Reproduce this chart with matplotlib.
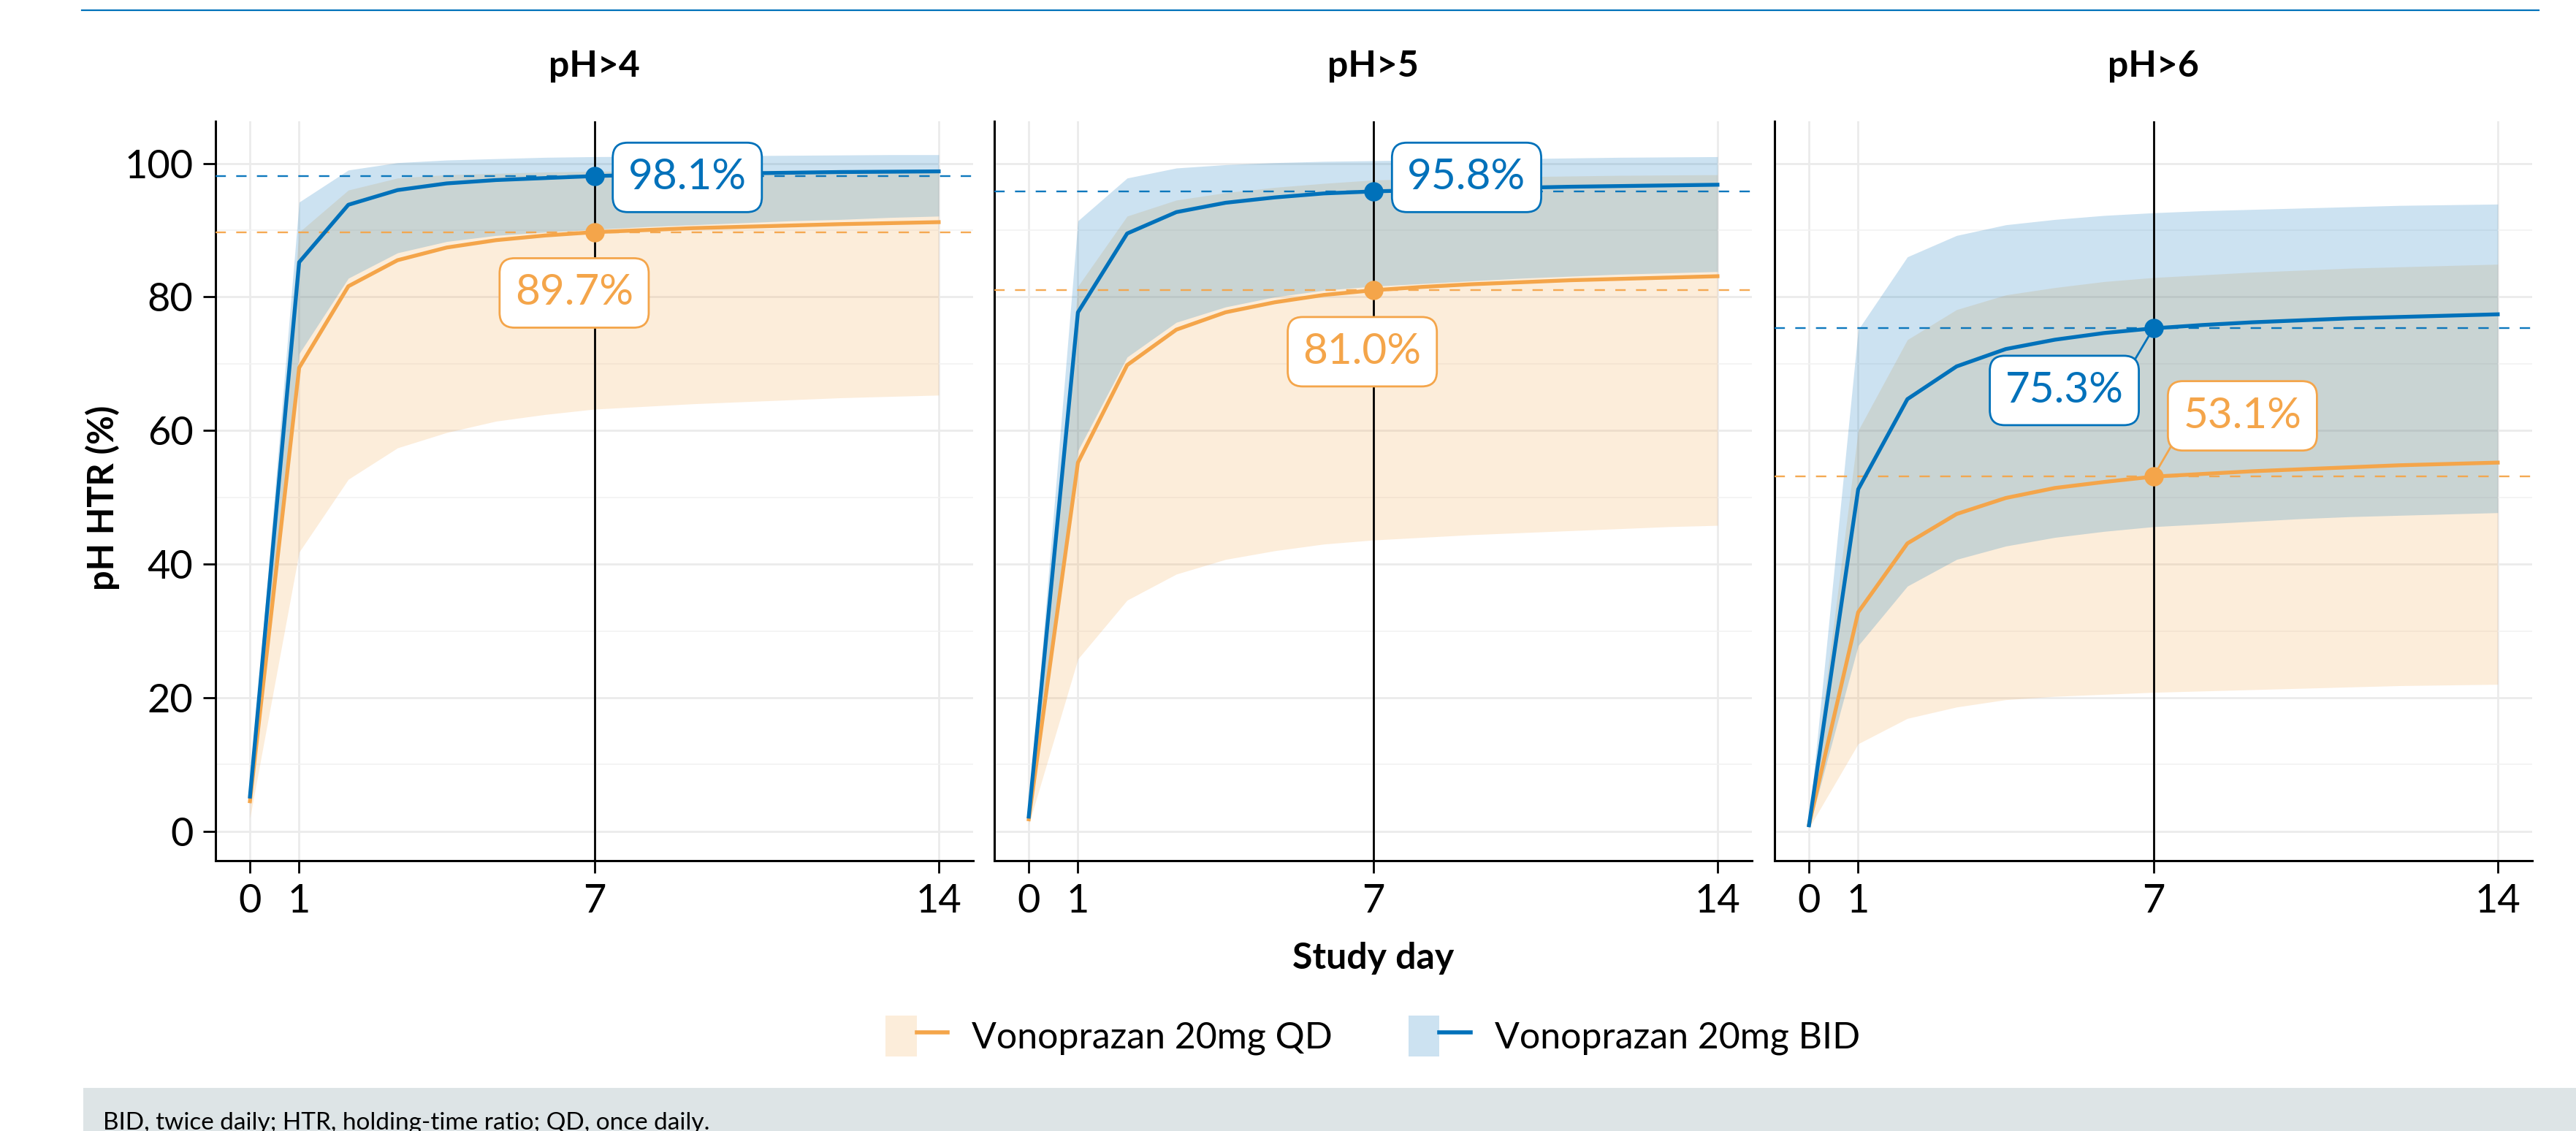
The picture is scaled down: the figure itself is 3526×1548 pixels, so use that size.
import matplotlib
matplotlib.use("Agg")
import matplotlib.pyplot as plt
from matplotlib.patches import Patch, Rectangle
from matplotlib.lines import Line2D
from matplotlib.legend_handler import HandlerTuple

plt.rcParams['font.family'] = ['Lato', 'DejaVu Sans']

BLUE = '#0071BA'
ORANGE = '#F4A54A'

days = list(range(15))
panel_titles = ['pH>4', 'pH>5', 'pH>6']
series_names = ['Vonoprazan 20mg QD', 'Vonoprazan 20mg BID']

# pH>4
qd4_med = [4.5, 69.4, 81.6, 85.5, 87.4, 88.5, 89.2, 89.7, 90.0, 90.3, 90.5, 90.7, 90.9, 91.05, 91.2]
qd4_lo = [2.0, 41.8, 52.7, 57.4, 59.7, 61.4, 62.4, 63.2, 63.6, 64.0, 64.3, 64.6, 64.9, 65.1, 65.3]
qd4_hi = [7.5, 89.7, 96.0, 97.8, 98.3, 98.5, 98.7, 98.8, 98.85, 98.9, 98.9, 98.95, 99.0, 99.0, 99.0]
bid4_med = [5.2, 85.2, 93.8, 96.0, 97.0, 97.5, 97.8, 98.1, 98.3, 98.4, 98.5, 98.6, 98.7, 98.75, 98.8]
bid4_lo = [4.0, 71.5, 82.8, 86.6, 88.3, 89.2, 89.7, 90.1, 90.5, 90.8, 91.1, 91.4, 91.6, 91.9, 92.1]
bid4_hi = [6.5, 94.2, 99.0, 100.1, 100.5, 100.7, 100.9, 101.0, 101.05, 101.1, 101.15, 101.2, 101.25, 101.3, 101.3]

# pH>5
qd5_med = [1.8, 55.2, 69.8, 75.1, 77.7, 79.2, 80.3, 81.0, 81.5, 81.9, 82.2, 82.5, 82.7, 82.9, 83.1]
qd5_lo = [1.0, 25.8, 34.6, 38.5, 40.7, 42.0, 43.0, 43.6, 44.0, 44.4, 44.7, 45.0, 45.3, 45.6, 45.8]
qd5_hi = [2.8, 81.6, 92.1, 94.5, 95.6, 96.4, 97.0, 97.5, 97.7, 97.9, 98.0, 98.1, 98.2, 98.25, 98.3]
bid5_med = [2.2, 77.7, 89.5, 92.7, 94.1, 94.9, 95.5, 95.8, 96.0, 96.2, 96.35, 96.5, 96.6, 96.7, 96.8]
bid5_lo = [1.5, 57.0, 71.0, 76.2, 78.5, 80.0, 81.0, 81.6, 82.0, 82.4, 82.8, 83.1, 83.4, 83.6, 83.8]
bid5_hi = [3.0, 91.4, 97.8, 99.3, 99.8, 100.1, 100.3, 100.4, 100.5, 100.6, 100.7, 100.8, 100.9, 100.95, 101.0]

# pH>6
qd6_med = [1.0, 32.8, 43.1, 47.5, 49.9, 51.4, 52.3, 53.1, 53.5, 53.9, 54.2, 54.5, 54.8, 55.0, 55.2]
qd6_lo = [0.5, 13.1, 16.9, 18.6, 19.7, 20.2, 20.5, 20.8, 21.0, 21.2, 21.4, 21.6, 21.8, 21.9, 22.0]
qd6_hi = [1.8, 60.0, 73.6, 78.1, 80.3, 81.4, 82.3, 82.9, 83.3, 83.7, 84.0, 84.3, 84.5, 84.7, 84.9]
bid6_med = [0.9, 51.2, 64.7, 69.6, 72.2, 73.6, 74.6, 75.3, 75.8, 76.2, 76.5, 76.8, 77.0, 77.2, 77.4]
bid6_lo = [0.5, 27.8, 36.7, 40.7, 42.7, 44.0, 44.9, 45.6, 46.0, 46.4, 46.8, 47.1, 47.3, 47.5, 47.7]
bid6_hi = [1.5, 75.1, 86.0, 89.2, 90.8, 91.6, 92.2, 92.6, 92.9, 93.1, 93.3, 93.5, 93.7, 93.8, 93.9]

# day-7 values and label spots
day7_qd = [89.7, 81.0, 53.1]
day7_bid = [98.1, 95.8, 75.3]
qd_label_xy = [(6.59, 80.6), (6.78, 71.8), (8.81, 62.2)]
bid_label_xy = [(8.89, 97.9), (8.90, 97.9), (5.19, 66.0)]
qd_seg = [None, None, (0.0, 0.25)]
bid_seg = [None, None, (1.0, 0.8)]

panels = [
    (qd4_med, qd4_lo, qd4_hi, bid4_med, bid4_lo, bid4_hi),
    (qd5_med, qd5_lo, qd5_hi, bid5_med, bid5_lo, bid5_hi),
    (qd6_med, qd6_lo, qd6_hi, bid6_med, bid6_lo, bid6_hi),
]

W, H = 3526, 1548
fig = plt.figure(figsize=(W / 200, H / 200), dpi=200)

lefts = [295, 1361, 2429]
ax_w = 1037
ax_top, ax_bot = 166, 1178

# top rule and footnote band
fig.add_artist(Line2D([112 / W, 3475 / W], [1 - 14 / H, 1 - 14 / H], color=BLUE, lw=0.8))
fig.add_artist(Rectangle((114 / W, 0), 1 - 114 / W, 59 / H, color='#dde4e6', lw=0))
fig.text(141 / W, 2 / H, 'BID, twice daily; HTR, holding-time ratio; QD, once daily.',
         fontsize=12, va='baseline', ha='left')


def label(ax, val, xy, c, relpos):
    kw = dict(ha='center', va='center', color=c, fontsize=21, zorder=10,
              bbox=dict(boxstyle='round,pad=0.36,rounding_size=0.35', fc='white', ec=c, lw=1.0))
    if relpos is None:
        ax.text(xy[0], xy[1], f'{val:.1f}%', **kw)
    else:
        ax.annotate(f'{val:.1f}%', xy=(7, val), xytext=xy, textcoords='data',
                    arrowprops=dict(arrowstyle='-', color=c, lw=1.0, shrinkA=0, shrinkB=0, relpos=relpos),
                    **kw)


for i, (qm, ql, qh, bm, bl, bh) in enumerate(panels):
    ax = fig.add_axes([lefts[i] / W, 1 - ax_bot / H, ax_w / W, (ax_bot - ax_top) / H])
    ax.set_xlim(-0.7, 14.7)
    ax.set_ylim(-4.4, 106.3)
    ax.set_xticks([0, 1, 7, 14])
    ax.set_yticks([0, 20, 40, 60, 80, 100])
    ax.set_yticks([10, 30, 50, 70, 90], minor=True)
    ax.grid(True, which='major', color='#ebebeb', lw=1.0, zorder=0)
    ax.grid(True, which='minor', axis='y', color='#f2f2f2', lw=0.6, zorder=0)
    ax.tick_params(which='minor', length=0)
    ax.tick_params(which='major', length=6, width=1.0, labelsize=19.5, pad=5)
    ax.set_axisbelow(True)
    for s in ['top', 'right']:
        ax.spines[s].set_visible(False)
    for s in ['left', 'bottom']:
        ax.spines[s].set_linewidth(1.1)
    if i > 0:
        ax.tick_params(axis='y', which='both', left=False, labelleft=False)

    ax.fill_between(days, ql, qh, color=ORANGE, alpha=0.2, lw=0, zorder=1)
    ax.fill_between(days, bl, bh, color=BLUE, alpha=0.2, lw=0, zorder=2)

    ax.axvline(7, color='black', lw=1.0, zorder=3)
    ax.axhline(day7_qd[i], color=ORANGE, lw=0.85, dashes=(6, 6), alpha=0.95, zorder=3)
    ax.axhline(day7_bid[i], color=BLUE, lw=0.85, dashes=(6, 6), alpha=0.95, zorder=3)

    ax.plot(days, qm, color=ORANGE, lw=1.9, zorder=4)
    ax.plot(days, bm, color=BLUE, lw=1.9, zorder=4)
    ax.plot([7], [day7_qd[i]], 'o', color=ORANGE, ms=8.5, zorder=5)
    ax.plot([7], [day7_bid[i]], 'o', color=BLUE, ms=8.5, zorder=5)

    label(ax, day7_qd[i], qd_label_xy[i], ORANGE, qd_seg[i])
    label(ax, day7_bid[i], bid_label_xy[i], BLUE, bid_seg[i])

    ax.set_title(panel_titles[i], fontsize=18, fontweight='bold', pad=22)

fig.text(140 / W, 1 - 681 / H, 'pH HTR (%)', rotation=90, fontsize=17.5, fontweight='bold',
         ha='center', va='center')
fig.text(1880 / W, 1 - 1311 / H, 'Study day', fontsize=18, fontweight='bold',
         ha='center', va='center')

handles = [
    (Patch(facecolor=ORANGE, alpha=0.2, lw=0), Line2D([], [], color=ORANGE, lw=2.0)),
    (Patch(facecolor=BLUE, alpha=0.2, lw=0), Line2D([], [], color=BLUE, lw=2.0)),
]
fig.legend(handles, series_names, loc='center', bbox_to_anchor=(1879 / W, 1 - 1418 / H),
           ncol=2, frameon=False, fontsize=18, handlelength=1.7, handleheight=1.32,
           handletextpad=0.66, columnspacing=2.08,
           handler_map={tuple: HandlerTuple(ndivide=None, pad=0)})

fig.savefig('out.png', dpi=200)
